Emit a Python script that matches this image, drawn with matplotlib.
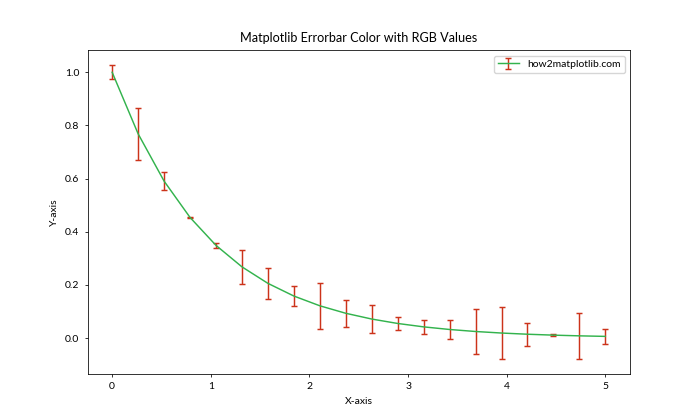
import numpy as np
import matplotlib.pyplot as plt

plt.rcParams['font.family'] = ['Lato', 'DejaVu Sans']

# 20 evenly spaced points, exponential decay
x = np.linspace(0, 5, 20)
y = np.exp(-x)
yerr = [0.027, 0.097, 0.033, 0.002, 0.009, 0.064, 0.058, 0.039, 0.086, 0.051,
        0.053, 0.024, 0.026, 0.036, 0.085, 0.098, 0.043, 0.005, 0.086, 0.028]

fig, ax = plt.subplots(figsize=(7, 4.2), dpi=100)
ax.errorbar(x, y, yerr=yerr, color=(0.2, 0.7, 0.3), ecolor=(0.8, 0.2, 0.1),
            capsize=2.1, linewidth=1.05, elinewidth=1.05, capthick=1.05,
            label='how2matplotlib.com')
ax.set_title('Matplotlib Errorbar Color with RGB Values', fontsize=9.1)
ax.set_xlabel('X-axis', fontsize=7.5)
ax.set_ylabel('Y-axis', fontsize=7.5)
ax.tick_params(labelsize=7.5, width=0.56, length=2.45)
for s in ax.spines.values():
    s.set_linewidth(0.56)
ax.legend(fontsize=7.5)
fig.savefig('out.png', dpi=100)
